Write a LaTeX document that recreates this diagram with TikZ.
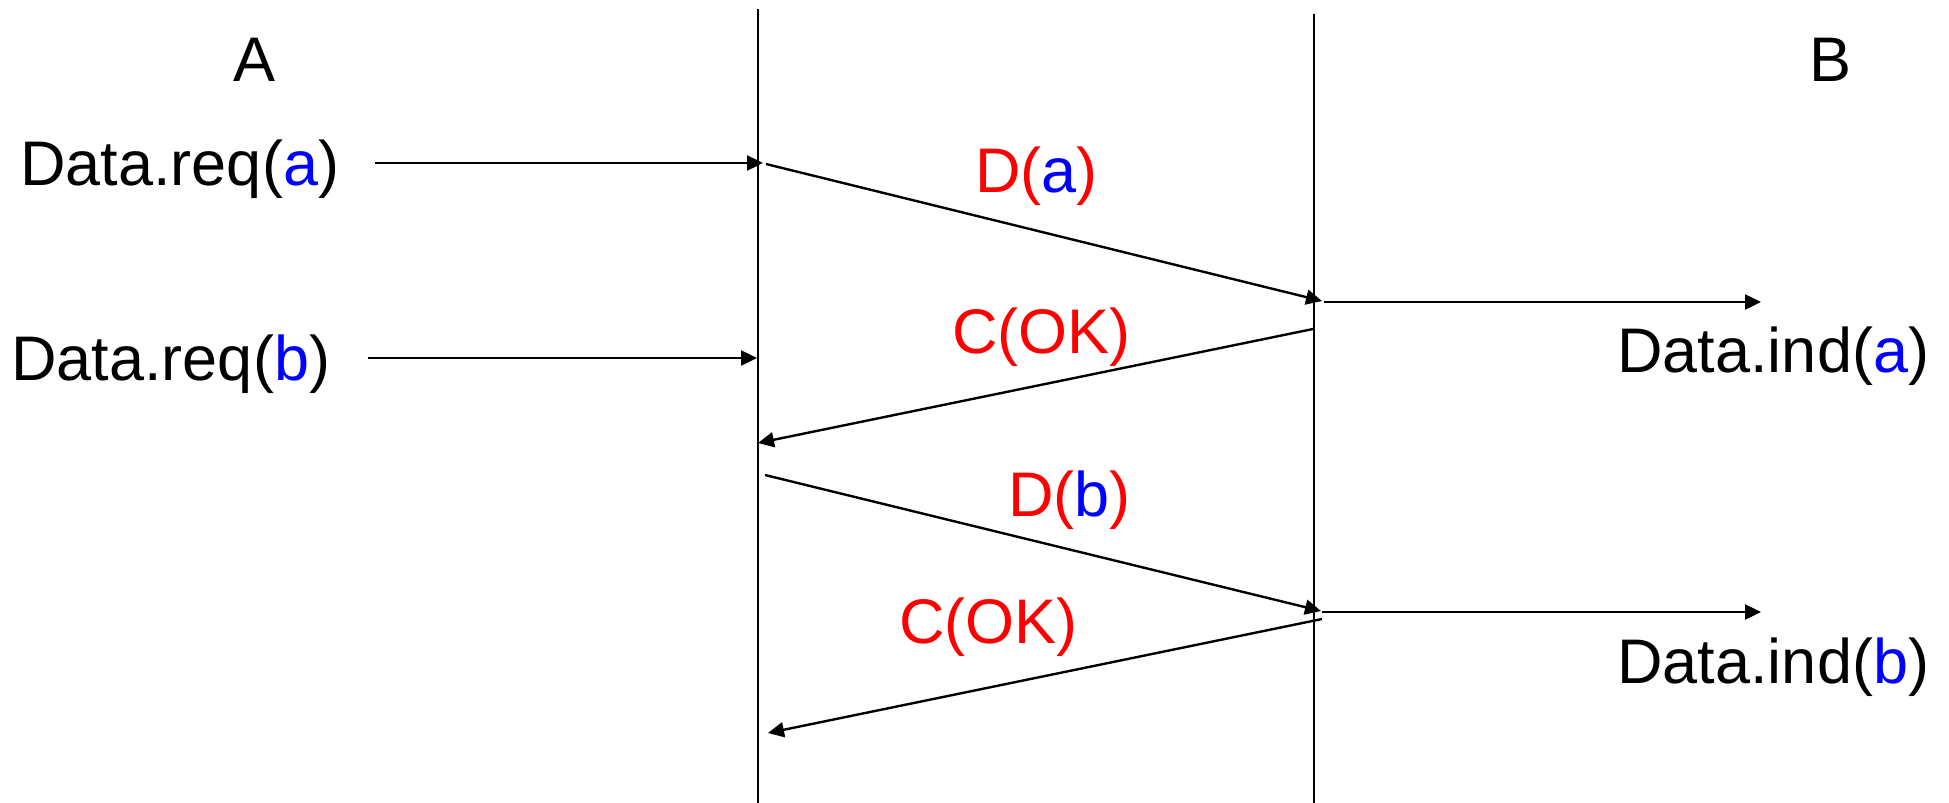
\documentclass[tikz,border=0pt]{standalone}
\usepackage{fontspec}
\setmainfont{Liberation Sans}
\usetikzlibrary{arrows.meta}
\definecolor{msgred}{RGB}{255,0,0}
\definecolor{argblue}{RGB}{0,0,255}
\tikzset{
  lifeline/.style={line width=1pt, black},
  msg/.style={line width=1.2pt, black, -{Triangle[length=8pt,width=7.5pt]}},
  lbl/.style={inner sep=0pt, anchor=base west, font=\fontsize{31.5}{38}\selectfont},
  ttl/.style={inner sep=0pt, anchor=base, font=\fontsize{31.5}{38}\selectfont},
}
\begin{document}
\begin{tikzpicture}[x=0.5pt, y=-0.5pt]
\useasboundingbox (0,0) rectangle (1949,803);
% lifelines
\coordinate (Ltop) at (758,9);
\coordinate (Lbot) at (758,803);
\coordinate (Rtop) at (1314,14);
\coordinate (Rbot) at (1314,803);
\draw[lifeline] (Ltop) -- (Lbot);
\draw[lifeline] (Rtop) -- (Rbot);
% titles
\node[ttl] (A) at (255,81) {A};
\node[ttl] (B) at (1830,81) {B};
% labels
\node[lbl] (reqa) at (20,185) {Data.req(\textcolor{argblue}{a})};
\node[lbl] (reqb) at (11,380) {Data.req(\textcolor{argblue}{b})};
\node[lbl] (inda) at (1617,372) {Data.ind(\textcolor{argblue}{a})};
\node[lbl] (indb) at (1617,683) {Data.ind(\textcolor{argblue}{b})};
\node[lbl, text=msgred] (Da) at (975,192) {D(\textcolor{argblue}{a})};
\node[lbl, text=msgred] (Ca) at (952,353) {C(OK)};
\node[lbl, text=msgred] (Db) at (1008,516) {D(\textcolor{argblue}{b})};
\node[lbl, text=msgred] (Cb) at (899,643) {C(OK)};
% connector end points
\coordinate (reqaS) at (375,163);
\coordinate (reqaE) at (763,163);
\coordinate (reqbS) at (368,358);
\coordinate (reqbE) at (757,358);
\coordinate (DaS) at (766,164);
\coordinate (DaE) at (1322,301);
\coordinate (indaS) at (1324,302);
\coordinate (indaE) at (1761,302);
\coordinate (CaS) at (1313,329);
\coordinate (CaE) at (758,443);
\coordinate (DbS) at (765,475);
\coordinate (DbE) at (1321,611);
\coordinate (indbS) at (1322,612);
\coordinate (indbE) at (1761,612);
\coordinate (CbS) at (1322,619);
\coordinate (CbE) at (768,733);
% connectors
\draw[msg] (reqaS) -- (reqaE);
\draw[msg] (reqbS) -- (reqbE);
\draw[msg] (DaS) -- (DaE);
\draw[msg] (indaS) -- (indaE);
\draw[msg] (CaS) -- (CaE);
\draw[msg] (DbS) -- (DbE);
\draw[msg] (indbS) -- (indbE);
\draw[msg] (CbS) -- (CbE);
\end{tikzpicture}
\end{document}
